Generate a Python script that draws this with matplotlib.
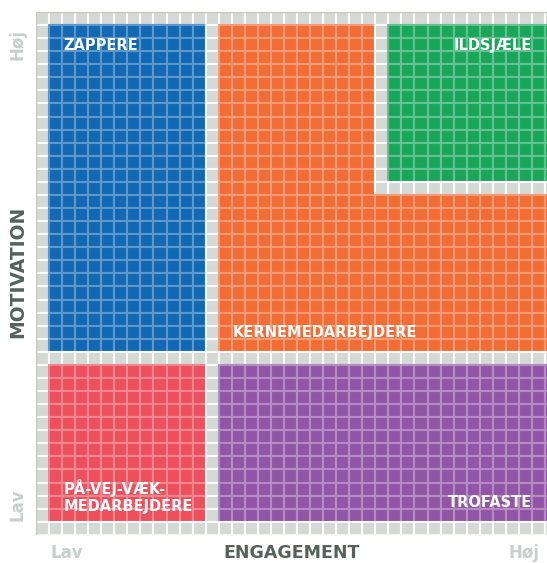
import numpy as np
import matplotlib.pyplot as plt
from matplotlib.patches import Rectangle
from matplotlib.collections import PatchCollection
from matplotlib.colors import to_rgb

# segment layout in grid cells (col/row start inclusive, end exclusive, row 0 = top)
segments = ["ZAPPERE", "KERNEMEDARBEJDERE", "KERNEMEDARBEJDERE", "ILDSJÆLE",
            "PÅ-VEJ-VÆK-\nMEDARBEJDERE", "TROFASTE"]
col_start = [1, 14, 26, 27, 1, 14]
col_end = [13, 26, 40, 40, 13, 40]
row_start = [1, 1, 14, 1, 27, 27]
row_end = [26, 26, 26, 13, 39, 39]
seg_colors = ["#1268b3", "#f26c35", "#f26c35", "#1aa65a", "#ee4f5c", "#9155a5"]

n_cols = 40
n_rows = 40
gray = "#d4d9d5"

grid = np.full((n_rows, n_cols), -1)
for i in range(len(segments)):
    grid[row_start[i]:row_end[i], col_start[i]:col_end[i]] = i

W, H = 547, 563
fig = plt.figure(figsize=(W / 100, H / 100), dpi=100)
cw, ch = 13.05, 13.07
ax = fig.add_axes([36 / W, 1 - (12 + n_rows * ch) / H, n_cols * cw / W, n_rows * ch / H])
ax.set_xlim(0, n_cols)
ax.set_ylim(n_rows, 0)
ax.axis("off")


def lighten(c, a):
    r = np.array(to_rgb(c))
    return tuple(r + (1 - r) * a)


rects, faces, edges = [], [], []
for r in range(n_rows):
    for c in range(n_cols):
        k = grid[r, c]
        rects.append(Rectangle((c, r), 1, 1))
        if k < 0:
            faces.append(to_rgb(gray))
            edges.append((1, 1, 1))
        else:
            faces.append(to_rgb(seg_colors[k]))
            edges.append(lighten(seg_colors[k], 0.32))

pc = PatchCollection(rects, facecolors=faces, edgecolors=edges, linewidths=1.5)
ax.add_collection(pc)
ax.add_patch(Rectangle((0, 0), n_cols, n_rows, fill=False, edgecolor="#c2c7c3", lw=1.0))

lbl = dict(color="white", fontsize=10.5, fontweight="bold", family="DejaVu Sans")
ax.text(2.1, 2.6, segments[0], ha="left", va="center", **lbl)
ax.text(38.0, 2.6, segments[3], ha="right", va="center", **lbl)
ax.text(15.1, 24.5, segments[1], ha="left", va="center", **lbl)
ax.text(2.1, 37.05, segments[4], ha="left", va="center", linespacing=1.15, **lbl)
ax.text(38.0, 37.5, segments[5], ha="right", va="center", **lbl)

dark = "#55615b"
light = "#c9cdcb"
fig.text(18 / W, 1 - 272 / H, "MOTIVATION", rotation=90, ha="center", va="center",
         fontsize=13.5, fontweight="bold", color=dark)
fig.text(292 / W, 1 - 553 / H, "ENGAGEMENT", ha="center", va="center",
         fontsize=12.5, fontweight="bold", color=dark)
fig.text(67 / W, 1 - 553 / H, "Lav", ha="center", va="center",
         fontsize=12, fontweight="bold", color=light)
fig.text(540 / W, 1 - 553 / H, "Høj", ha="right", va="center",
         fontsize=12, fontweight="bold", color=light)
fig.text(18 / W, 1 - 45 / H, "Høj", rotation=90, ha="center", va="center",
         fontsize=12, fontweight="bold", color=light)
fig.text(18 / W, 1 - 505 / H, "Lav", rotation=90, ha="center", va="center",
         fontsize=12, fontweight="bold", color=light)

fig.savefig("out.png", dpi=100)
